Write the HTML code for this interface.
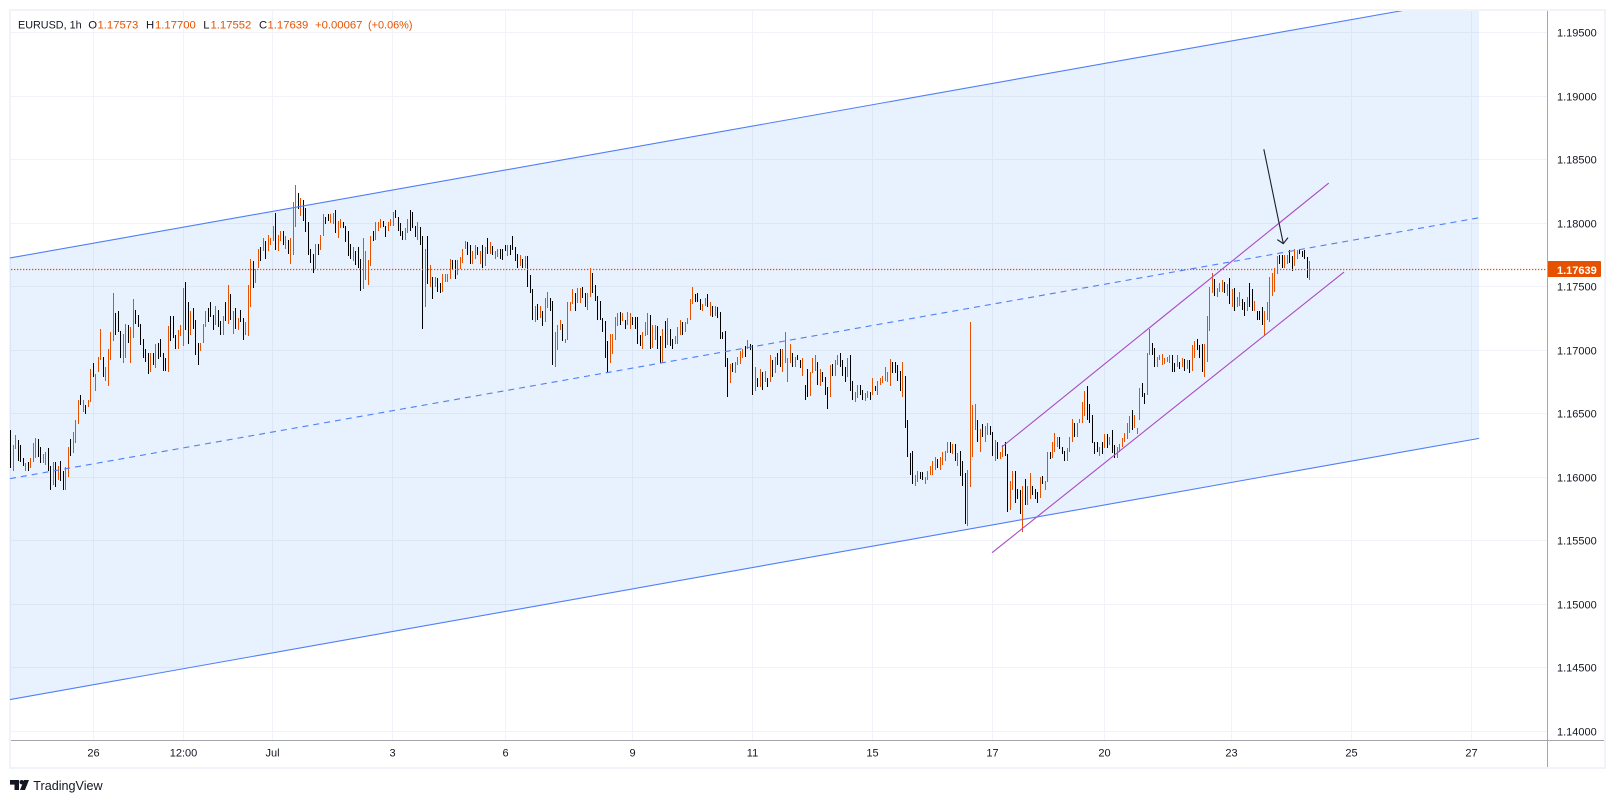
<!DOCTYPE html>
<html lang="en">
<head>
<meta charset="utf-8">
<title>EURUSD 1h chart</title>
<style>
html,body{margin:0;padding:0;background:#fff;width:1615px;height:803px;overflow:hidden}
svg{display:block}
text{font-family:"Liberation Sans",sans-serif}
</style>
</head>
<body>
<svg id="chart" width="1615" height="803" viewBox="0 0 1615 803" xmlns="http://www.w3.org/2000/svg">
  <defs><clipPath id="plot-clip"><rect x="10" y="11" width="1537" height="729"/></clipPath></defs>
  <rect x="0" y="0" width="1615" height="803" fill="#ffffff"/>
  <rect x="10" y="10" width="1595" height="758" fill="none" stroke="#f0f3fa" stroke-width="2"/>
  <g id="grid"></g>
  <g id="plot" clip-path="url(#plot-clip)"></g>
  <g id="price-axis"></g>
  <g id="time-axis"></g>
  <line x1="1547.5" y1="11" x2="1547.5" y2="767" stroke="#a3a6af" stroke-width="1"/>
  <line x1="11" y1="740.5" x2="1604" y2="740.5" stroke="#a3a6af" stroke-width="1"/>
  <g font-size="11.3" fill="#e65100">
    <text x="18" y="28.5" fill="#131722" font-size="10.8">EURUSD, 1h</text>
    <text x="88.3" y="28.5" fill="#131722">O</text>
    <text x="97.5" y="28.5">1.17573</text>
    <text x="146" y="28.5" fill="#131722">H</text>
    <text x="155" y="28.5">1.17700</text>
    <text x="203.3" y="28.5" fill="#131722">L</text>
    <text x="210.5" y="28.5">1.17552</text>
    <text x="259" y="28.5" fill="#131722">C</text>
    <text x="267.5" y="28.5">1.17639</text>
    <text x="315" y="28.5">+0.00067</text>
    <text x="368" y="28.5" font-size="10.9">(+0.06%)</text>
  </g>
  <g>
    <path d="M10 780h9v10h-4.5v-5.4H10z M20 790l4-10h5l-4 10z" fill="#131722"/>
    <circle cx="21.7" cy="782.2" r="2.2" fill="#131722"/>
    <text x="33.3" y="790" font-size="12.6" fill="#131722">TradingView</text>
  </g>
</svg>
<script>
// Hourly EURUSD bars. Values are in pips: 11637 means a price of 1.1637.
const highs = [
11637,11625,11633,11629,11625,11615,11611,11612,11615,11627,
11631,11630,11624,11618,11620,11623,11609,11612,11612,11609,
11613,11605,11608,11624,11630,11636,11645,11661,11665,11661,
11657,11661,11685,11690,11681,11695,11717,11695,11687,11701,
11714,11745,11729,11731,11715,11713,11721,11720,11718,11740,
11732,11728,11721,11709,11701,11698,11698,11698,11705,11706,
11709,11698,11694,11719,11727,11727,11712,11716,11720,11749,
11754,11738,11731,11733,11724,11706,11706,11721,11731,11733,
11738,11728,11735,11732,11723,11727,11738,11751,11744,11731,
11733,11725,11732,11725,11722,11751,11772,11770,11764,11780,
11781,11788,11786,11791,11788,11798,11808,11791,11794,11794,
11790,11787,11788,11817,11830,11824,11820,11818,11812,11801,
11780,11776,11784,11784,11791,11807,11805,11807,11807,11808,
11810,11802,11803,11801,11798,11794,11784,11781,11778,11781,
11772,11788,11778,11771,11790,11794,11801,11801,11803,11802,
11798,11801,11803,11809,11810,11805,
11800,11794,11796,11803,11810,11809,11798,11801,11797,11790,
11780,11790,11767,11758,11758,11757,11753,11760,11760,11760,
11772,11771,11771,11771,11773,11780,11786,11785,11783,11778,
11783,11781,11778,11783,11781,11788,11785,11782,11778,11780,
11780,11780,11783,11783,11783,11790,11781,11776,11775,11772,
11774,11774,11759,11748,11735,11736,11735,11731,11741,11746,
11741,11739,11714,11720,11724,11721,11709,11738,11738,11748,
11745,11749,11749,11750,11745,11745,11765,11761,11751,11743,
11739,11725,11723,11707,11713,11713,11726,11729,11730,11729,
11724,11730,11729,11726,11726,11726,11712,11714,11722,11729,
11728,11720,11720,11719,11711,11717,11723,11725,11717,11709,
11711,11718,11724,11722,11722,11725,11740,11750,11744,11745,
11740,11736,11741,11744,11738,11735,11735,11734,11730,11714,
11715,11694,11689,11690,11691,11695,11699,11701,11703,11708,
11705,11704,11687,11678,11685,11683,11684,11678,11696,11692,
11695,11698,11701,11701,11714,11694,11705,11698,11695,11696,11692,
11694,11673,11685,11683,11694,11696,11691,11685,11683,11679,
11671,11688,11689,11692,11696,11698,11692,11687,11694,11696,
11676,11667,11673,11673,11669,11666,11668,11667,11678,11672,
11676,11678,11680,11687,11683,11693,11691,11691,11688,11684,
11691,11680,11645,11619,11621,11602,11605,11604,11604,11600,
11605,11609,11613,11616,11614,11616,11620,11621,11628,11628,
11626,11626,11619,11621,11613,11603,11606,11722,11657,11658,
11645,11638,11642,11640,11643,11640,11636,11629,11628,11620,
11625,11628,11618,11597,11605,11605,11591,11590,11593,11599,
11593,11603,11593,11591,11588,11600,11601,11597,11620,11620,
11628,11635,11632,11632,11624,11621,11623,11632,11646,11643,
11643,11646,11659,11668,11672,11658,11649,11628,11628,11624,
11628,11634,11634,11632,11637,11625,11624,11626,11631,11635,
11643,11648,11653,11649,11639,11670,11674,11666,11698,11717,
11706,11702,11695,11696,11697,11694,11695,11696,11696,11690,
11696,11691,11694,11693,11692,11692,11704,11707,11709,11704,
11705,11705,
11727,11750,11761,11756,11749,11753,11755,11754,11752,11757,
11748,11749,11742,11746,11740,11738,11742,11753,11748,11739,
11731,11731,11734,11731,11738,11758,11761,11765,11774,11775,
11775,11775,11775,11779,11774,11780,11779,11780,11778,11779,
11773,11770];
const lows = [
11607,11605,11622,11613,11612,11609,11605,11605,11607,11612,
11615,11616,11611,11611,11610,11605,11590,11594,11592,11598,
11597,11590,11590,11600,11617,11619,11627,11642,11657,11651,
11650,11655,11659,11679,11668,11683,11692,11679,11676,11672,
11692,11707,11712,11714,11694,11690,11694,11706,11690,11710,
11721,11718,11704,11694,11691,11681,11683,11688,11686,11693,
11695,11684,11684,11683,11707,11710,11701,11701,11711,11703,
11716,11705,11712,11717,11696,11688,11699,11706,11718,11722,
11726,11716,11720,11718,11712,11712,11723,11721,11724,11713,
11717,11716,11722,11708,11712,11711,11734,11749,11753,11765,
11770,11778,11772,11778,11783,11786,11779,11778,11786,11783,
11780,11776,11768,11775,11797,11811,11806,11802,11793,11775,
11769,11761,11764,11775,11779,11790,11799,11802,11800,11799,
11792,11788,11796,11796,11785,11774,11772,11770,11767,11765,
11747,11748,11755,11751,11766,11786,11787,11794,11796,11797,
11789,11794,11798,11798,11804,11794,
11790,11787,11787,11792,11794,11796,11789,11787,11783,11717,
11734,11752,11750,11740,11750,11746,11745,11746,11754,11754,
11756,11763,11756,11759,11764,11769,11780,11775,11768,11768,
11772,11775,11768,11765,11766,11776,11776,11775,11772,11773,
11772,11771,11778,11774,11775,11779,11770,11765,11766,11765,
11765,11750,11745,11724,11722,11724,11725,11719,11722,11733,
11731,11688,11687,11700,11716,11707,11706,11708,11731,11736,
11731,11737,11737,11741,11734,11732,11742,11745,11739,11724,
11724,11714,11694,11682,11690,11697,11708,11719,11720,11723,
11717,11720,11717,11720,11717,11705,11703,11701,11711,11712,
11701,11702,11708,11701,11690,11690,11702,11704,11703,11701,
11705,11705,11712,11712,11714,11721,11724,11736,11738,11738,
11732,11731,11735,11734,11727,11726,11727,11725,11709,11709,
11687,11663,11674,11683,11682,11688,11689,11694,11695,11701,
11700,11665,11668,11671,11671,11669,11675,11671,11675,11679,
11682,11688,11687,11683,11690,11675,11690,11687,11687,11692,11686,
11680,11661,11663,11664,11682,11684,11673,11672,11675,11665,
11654,11663,11680,11680,11688,11687,11680,11675,11679,11668,
11661,11659,11662,11665,11661,11660,11662,11661,11665,11668,
11665,11673,11674,11676,11675,11672,11682,11682,11676,11668,
11663,11639,11616,11602,11595,11593,11596,11599,11598,11595,
11598,11602,11602,11606,11607,11606,11610,11613,11619,11619,
11618,11613,11609,11601,11593,11563,11562,11592,11616,11637,
11628,11620,11632,11628,11633,11633,11617,11613,11614,11614,
11616,11617,11573,11574,11590,11580,11583,11571,11557,11578,
11578,11583,11586,11583,11580,11584,11595,11590,11596,11614,
11615,11620,11624,11622,11618,11613,11613,11620,11628,11632,
11632,11643,11643,11648,11645,11643,11627,11618,11620,11617,
11618,11623,11623,11625,11619,11615,11615,11620,11624,11628,
11630,11635,11637,11639,11634,11645,11663,11658,11665,11696,
11696,11687,11687,11692,11688,11689,11691,11690,11683,11683,
11687,11685,11687,11684,11685,11682,11684,11694,11700,11694,
11683,11679,
11691,11715,11745,11743,11742,11746,11746,11745,11743,11736,
11734,11731,11734,11735,11732,11727,11731,11734,11731,11731,
11724,11724,11720,11711,11724,11722,11743,11746,11760,11768,
11765,11765,11768,11769,11762,11766,11772,11776,11773,11772,
11757,11755];
// 1 = close above open (orange), 0 = close below open (black)
const ups = [
0,1,1,0,0,0,1,0,1,1,
1,0,0,1,1,0,0,1,0,1,
0,0,1,1,0,1,1,1,0,1,
0,1,1,0,1,1,1,0,1,1,
1,1,0,0,0,1,1,0,1,1,
0,0,0,0,0,0,1,0,1,0,
0,0,0,1,0,0,0,1,1,1,
0,0,1,0,0,0,1,1,1,0,
0,0,1,0,0,1,0,1,0,1,
0,1,0,0,1,1,1,0,1,1,
0,1,0,1,1,1,0,1,1,0,
1,0,1,1,1,0,1,0,0,0,
0,0,1,0,1,1,0,0,1,1,
0,1,1,0,0,0,0,1,0,0,
0,1,1,1,1,0,1,1,1,0,
0,1,1,1,0,0,
0,0,1,1,0,0,0,1,0,0,
1,0,1,0,1,0,0,1,1,1,
1,0,0,1,1,1,1,0,0,1,
1,0,1,0,1,0,1,0,1,1,
0,0,0,1,0,0,0,0,1,0,
1,0,0,0,1,0,1,0,1,1,
0,0,1,1,1,0,1,1,1,1,
0,1,1,0,0,1,1,0,0,0,
0,0,0,0,1,1,1,1,0,1,
0,1,1,0,0,0,0,1,1,1,
0,1,1,0,0,1,0,1,0,0,
1,1,1,0,1,1,1,1,0,0,
0,1,1,0,1,0,1,0,0,0,
0,0,1,0,1,1,1,1,0,1,
0,0,1,0,1,0,1,0,1,0,
1,0,0,1,1,1,1,0,1,0,0,
1,0,0,1,1,1,0,1,0,0,
0,1,0,1,1,0,0,0,1,0,
0,1,1,0,0,1,1,0,1,0,
1,1,1,1,1,1,0,0,0,0,
1,0,0,0,0,1,1,0,0,1,
1,1,1,1,0,1,1,1,1,0,
1,0,1,0,0,0,1,1,1,1,
0,1,0,1,1,0,0,1,0,1,
1,0,0,1,1,0,0,0,1,0,
1,1,0,0,0,1,0,1,1,0,
1,1,1,0,0,0,1,1,1,0,
1,1,1,1,0,0,0,0,0,1,
0,1,0,1,0,0,1,1,1,1,
1,1,0,1,1,1,0,0,1,1,
0,0,1,1,1,1,1,1,0,0,
1,0,1,0,1,0,1,1,0,0,
0,1,
1,1,1,0,1,1,1,0,1,0,
1,0,1,1,0,0,1,0,0,1,
0,0,0,1,1,1,1,1,1,0,
0,1,1,0,0,1,1,0,0,0,
0,1];

const priceTicks = [1.14,1.145,1.15,1.155,1.16,1.165,1.17,1.175,1.18,1.185,1.19,1.195];
const lastPrice = 1.17639;
const timeLabels = ["26","12:00","Jul","3","6","9","11","15","17","20","23","25","27"];
const timeTickBars = [33.2,69.3,104.9,152.9,198.2,249,297,345.1,393.1,437.9,488.8,536.8,584.9];

// Drawings: bar index and price at each end
const channelBars = [-0.1,588];
const channelUpper = [1.17726,1.19781];
const channelMiddle = [1.15989,1.18043];
const channelLower = [1.1425,1.16306];
const risingUpperBars = [396.9,527.8];
const risingUpperPrices = [1.16238,1.18316];
const risingLowerBars = [393,533.9];
const risingLowerPrices = [1.15406,1.17615];
const arrowBars = [501.8,509.6];
const arrowPrices = [1.18582,1.17839];

const SVG_NS = "http://www.w3.org/2000/svg";
const xScale = i => 10.3 + i * 1299 / 520;
const yScale = p => 731.3 - (p - 1.14) * 12703;
const fromPips = v => v / 10000;

function make(parent, tag, attrs, text) {
  const el = document.createElementNS(SVG_NS, tag);
  for (const k in attrs) el.setAttribute(k, attrs[k]);
  if (text !== undefined) el.textContent = text;
  parent.appendChild(el);
  return el;
}

const gridG = document.getElementById("grid");
const plotG = document.getElementById("plot");
const priceG = document.getElementById("price-axis");
const timeG = document.getElementById("time-axis");

priceTicks.forEach(p => {
  const y = Math.floor(yScale(p)) + 0.5;
  const gl = make(gridG, "line", {x1: 11, y1: y, x2: 1547, y2: y, stroke: "#f1f3f8", "stroke-width": 1});
  
  
  const t = make(priceG, "text", {x: 1557, y: y + 4, "font-size": 11, fill: "#131722"}, p.toFixed(5));
  
  
});

timeTickBars.forEach((b, i) => {
  const x = Math.floor(xScale(b)) + 0.5;
  const gl = make(gridG, "line", {x1: x, y1: 11, x2: x, y2: 740, stroke: "#f1f3f8", "stroke-width": 1});
  
  
  const t = make(timeG, "text", {x: x, y: 756.5, "font-size": 11, fill: "#131722", "text-anchor": "middle"}, timeLabels[i]);
  
  
});

// Channel shading
const shadePts = [
  [channelBars[0], channelUpper[0]], [channelBars[1], channelUpper[1]],
  [channelBars[1], channelLower[1]], [channelBars[0], channelLower[0]]
].map(d => xScale(d[0]) + "," + yScale(d[1])).join(" ");
const shade = make(plotG, "polygon", {points: shadePts, fill: "rgb(33,120,243)", "fill-opacity": 0.1});



// Candles
highs.forEach((h, i) => {
  const x = Math.round(xScale(i));
  const top = Math.round(yScale(fromPips(h)));
  const bottom = Math.round(yScale(fromPips(lows[i])));
  const bar = make(plotG, "rect", {x: x, y: top, width: 1, height: Math.max(1, bottom - top), fill: ups[i] ? "#e65100" : "#000000"});
  
  
});

// Last-price dotted line
const lastY = Math.floor(yScale(lastPrice)) + 0.5;
const priceLine = make(plotG, "line", {x1: 11, y1: lastY, x2: 1547, y2: lastY, stroke: "#e65100", "stroke-width": 1.3, "stroke-dasharray": "1.3 1.7"});



function drawLine(bars, prices, color, dash, width) {
  const attrs = {x1: xScale(bars[0]), y1: yScale(prices[0]), x2: xScale(bars[1]), y2: yScale(prices[1]), stroke: color, "stroke-width": width};
  if (dash) attrs["stroke-dasharray"] = dash;
  return make(plotG, "line", attrs);
}

const upperLine = drawLine(channelBars, channelUpper, "#4f7ff5", null, 1.1);


const middleLine = drawLine(channelBars, channelMiddle, "#4f7ff5", "6 5", 1.1);


const lowerLine = drawLine(channelBars, channelLower, "#4f7ff5", null, 1.1);


const risingUpper = drawLine(risingUpperBars, risingUpperPrices, "#a94bc0", null, 1.1);


const risingLower = drawLine(risingLowerBars, risingLowerPrices, "#a94bc0", null, 1.1);


const arrowShaft = drawLine(arrowBars, arrowPrices, "#1c1f2a", null, 1.1);



const tipX = xScale(arrowBars[1]);
const tipY = yScale(arrowPrices[1]);
const head = make(plotG, "polyline", {points: (tipX - 6) + "," + (tipY - 4) + " " + tipX + "," + tipY + " " + (tipX + 4.7) + "," + (tipY - 6), fill: "none", stroke: "#1c1f2a", "stroke-width": 1.1});



// Last-price tag
const tagBox = make(priceG, "rect", {x: 1547, y: lastY - 8.5, width: 54, height: 16, rx: 1, fill: "#e65100"});


const tagText = make(priceG, "text", {x: 1557, y: lastY + 4.5, "font-size": 11, "font-weight": "bold", fill: "#ffffff"}, lastPrice.toFixed(5));


</script>
</body>
</html>
